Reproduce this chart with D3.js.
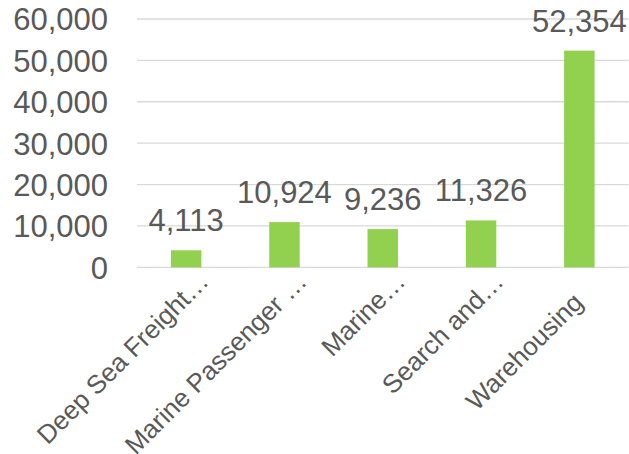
<!DOCTYPE html>
<meta charset="utf-8">
<style>
    body { margin: 0; background: #fff; }
    text { font-family: "Liberation Sans", Arial, sans-serif; fill: #595959; }
    .grid line { stroke: #d9d9d9; stroke-width: 1.3; }
    .bar { fill: #92d050; }
</style>
<body>
<script src="https://cdn.jsdelivr.net/npm/d3@7"></script>
<script>

    var categories = ["Deep Sea Freight\u2026", "Marine Passenger \u2026", "Marine\u2026", "Search and\u2026", "Warehousing"];
    var values = [4113, 10924, 9236, 11326, 52354];
    var yTicks = [0, 10000, 20000, 30000, 40000, 50000, 60000];

    var width = 629, height = 454;
    var plotLeft = 137, plotRight = 628.5, plotTop = 19, plotBottom = 267.3;

    var svg = d3.select("body").append("svg")
            .attr("width", width)
            .attr("height", height);

    var x = d3.scaleBand()
            .domain(categories)
            .range([plotLeft, plotRight])
            .paddingInner(0.69)
            .paddingOuter(0.345);

    var y = d3.scaleLinear()
            .domain([0, 60000])
            .range([plotBottom, plotTop]);

    var fmt = d3.format(",");

    // gridlines
    svg.append("g")
            .attr("class", "grid")
            .selectAll("line")
            .data(yTicks)
            .enter().append("line")
            .attr("x1", plotLeft)
            .attr("x2", plotRight)
            .attr("y1", function(d) { return y(d); })
            .attr("y2", function(d) { return y(d); });

    // y axis labels
    var yAxis = d3.axisLeft(y)
            .tickValues(yTicks)
            .tickSize(0)
            .tickPadding(29)
            .tickFormat(fmt);

    var gy = svg.append("g")
            .attr("transform", "translate(" + plotLeft + ",0)")
            .call(yAxis);
    gy.select(".domain").remove();
    gy.selectAll("text")
            .attr("fill", "#595959")
            .style("font-size", "31px")
            .style("font-family", "'Liberation Sans', Arial, sans-serif")
            .attr("dy", "0.35em");

    // bars
    svg.selectAll("rect.bar")
            .data(values)
            .enter().append("rect")
            .attr("class", "bar")
            .attr("x", function(d, i) { return x(categories[i]); })
            .attr("width", x.bandwidth())
            .attr("y", function(d) { return y(d); })
            .attr("height", function(d) { return y(0) - y(d); });

    // value labels
    svg.selectAll("text.value")
            .data(values)
            .enter().append("text")
            .attr("class", "value")
            .attr("x", function(d, i) { return x(categories[i]) + x.bandwidth() / 2; })
            .attr("y", function(d) { return y(d) - 19; })
            .attr("text-anchor", "middle")
            .style("font-size", "31px")
            .text(function(d) { return fmt(d); });

    // category labels, rotated; truncated ones sit a bit further out
    svg.selectAll("text.cat")
            .data(categories)
            .enter().append("text")
            .attr("class", "cat")
            .attr("text-anchor", "end")
            .attr("transform", function(d) {
                var cx = x(d) + x.bandwidth() / 2;
                var cut = d.slice(-1) === "\u2026";
                var tx = cut ? cx + 11 : cx - 8,
                    ty = cut ? 270 : 291;
                return "translate(" + tx + "," + ty + ") rotate(-45)";
            })
            .attr("dy", "0.71em")
            .style("font-size", "26px")
            .text(function(d) { return d; });

</script>
